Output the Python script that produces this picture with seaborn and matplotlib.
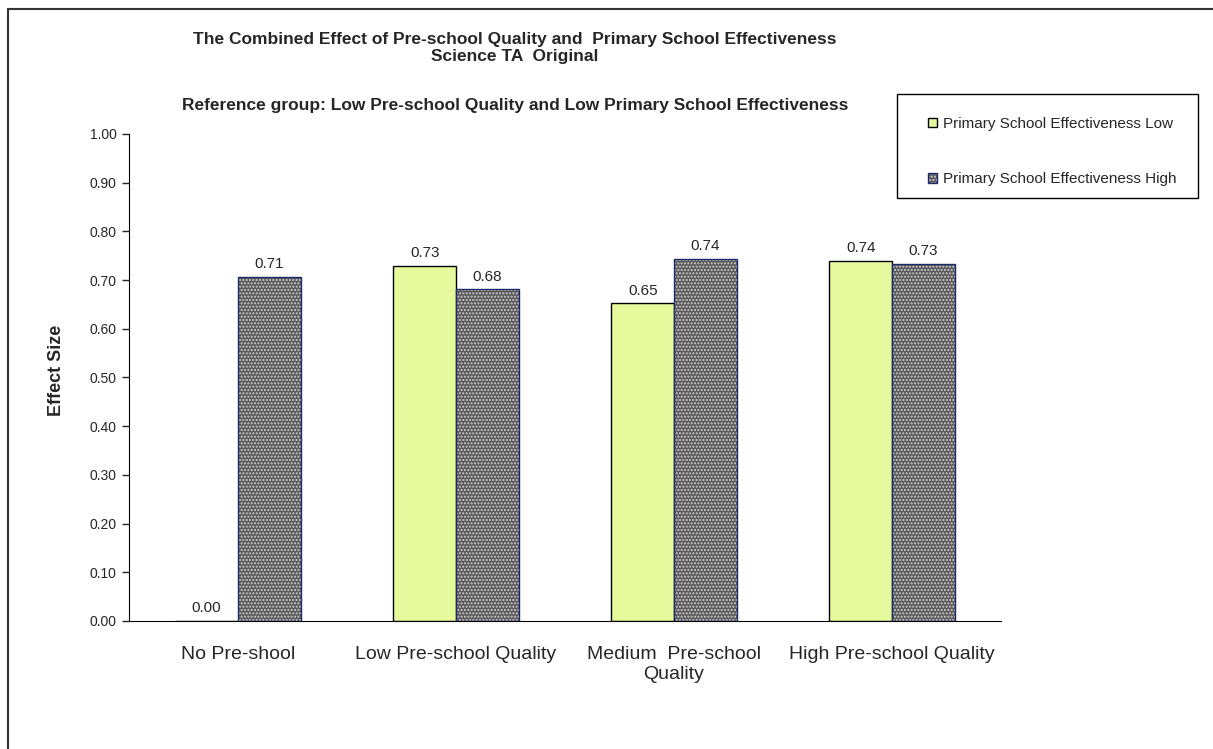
import pandas as pd
import matplotlib.pyplot as plt
import matplotlib.colors as mcolors
import seaborn as sns
from matplotlib.patches import Patch, Rectangle
from matplotlib.lines import Line2D

# Datos
categorias = ['No Pre-shool', 'Low Pre-school Quality', 'Medium  Pre-school\nQuality', 'High Pre-school Quality']
efecto_bajo = [0.00, 0.729, 0.652, 0.740]
efecto_alto = [0.707, 0.681, 0.744, 0.734]
series = ['Primary School Effectiveness Low', 'Primary School Effectiveness High']
ticks_y = [0.0, 0.1, 0.2, 0.3, 0.4, 0.5, 0.6, 0.7, 0.8, 0.9, 1.0]

df = pd.DataFrame({
    'categoria': categorias * 2,
    'efecto': efecto_bajo + efecto_alto,
    'serie': [series[0]] * 4 + [series[1]] * 4,
})

sns.set_style('white')
plt.rcParams['font.family'] = ['Liberation Sans', 'DejaVu Sans']
plt.rcParams['hatch.linewidth'] = 1.0

color_bajo = '#E6F99C'
color_alto = '#5a5a5a'
borde_alto = '#1a2a6c'
color_trama = '#cfcfcf'


def trama_gris(p):
    # el color de la trama sigue al borde; se fuerza a gris claro
    p.set_hatch('.....')
    if hasattr(p, 'set_hatchcolor'):
        p.set_hatchcolor(color_trama)
    else:
        p._hatch_color = mcolors.to_rgba(color_trama)


fig = plt.figure(figsize=(12.13, 7.49), dpi=100)
ax = fig.add_axes([0.1063, 0.1709, 0.719, 0.6502])

sns.barplot(data=df, x='categoria', y='efecto', hue='serie', order=categorias,
            hue_order=series, palette=[color_bajo, color_alto], width=0.575,
            saturation=1, legend=False, ax=ax)

for i, cont in enumerate(ax.containers):
    for p in cont:
        if i == 0:
            p.set_edgecolor('black')
            p.set_linewidth(1.0)
        else:
            p.set_edgecolor(borde_alto)
            p.set_linewidth(1.0)
            trama_gris(p)
    ax.bar_label(cont, fmt='%.2f', padding=4, fontsize=11)

ax.set_ylim(0, 1.0)
ax.set_yticks(ticks_y)
ax.set_yticklabels([f'{t:.2f}' for t in ticks_y], fontsize=10)
ax.tick_params(axis='y', direction='out', length=5, width=1, left=True, pad=4)
ax.tick_params(axis='x', length=0, labelsize=14, pad=18)
ax.set_xlabel('')
ax.set_ylabel('Effect Size', fontsize=13, fontweight='bold')
ax.yaxis.set_label_coords(-0.073, 0.515)
for lado in ['top', 'right']:
    ax.spines[lado].set_visible(False)
ax.spines['left'].set_color('black')
ax.spines['bottom'].set_color('black')

# Titulos
fig.text(0.424, 0.947, 'The Combined Effect of Pre-school Quality and  Primary School Effectiveness',
         ha='center', va='center', fontsize=12.5, fontweight='bold')
fig.text(0.424, 0.924, 'Science TA  Original', ha='center', va='center', fontsize=12.5, fontweight='bold')
fig.text(0.425, 0.859, 'Reference group: Low Pre-school Quality and Low Primary School Effectiveness',
         ha='center', va='center', fontsize=12.5, fontweight='bold')

# Leyenda: marco dibujado aparte y entradas sin marco
fig.add_artist(Rectangle((0.7395, 0.7357), 0.2482, 0.1388, transform=fig.transFigure,
                         facecolor='white', edgecolor='black', linewidth=1.0))
h_bajo = Patch(facecolor=color_bajo, edgecolor='black', label=series[0])
h_alto = Patch(facecolor=color_alto, edgecolor=borde_alto, label=series[1])
trama_gris(h_alto)
leg = fig.legend(handles=[h_bajo, h_alto], loc='upper left', bbox_to_anchor=(0.765, 0.844),
                 fontsize=11, frameon=False, handlelength=0.6, handleheight=0.6,
                 handletextpad=0.4, labelspacing=2.7, borderpad=0, borderaxespad=0)

# Marco exterior (solo izquierda y arriba)
fig.add_artist(Line2D([0.0068, 0.0068], [0.0, 0.988], color='#333333', lw=1.5, transform=fig.transFigure))
fig.add_artist(Line2D([0.0068, 1.0], [0.988, 0.988], color='#333333', lw=1.5, transform=fig.transFigure))

plt.savefig('out.png', dpi=100)
plt.close()
